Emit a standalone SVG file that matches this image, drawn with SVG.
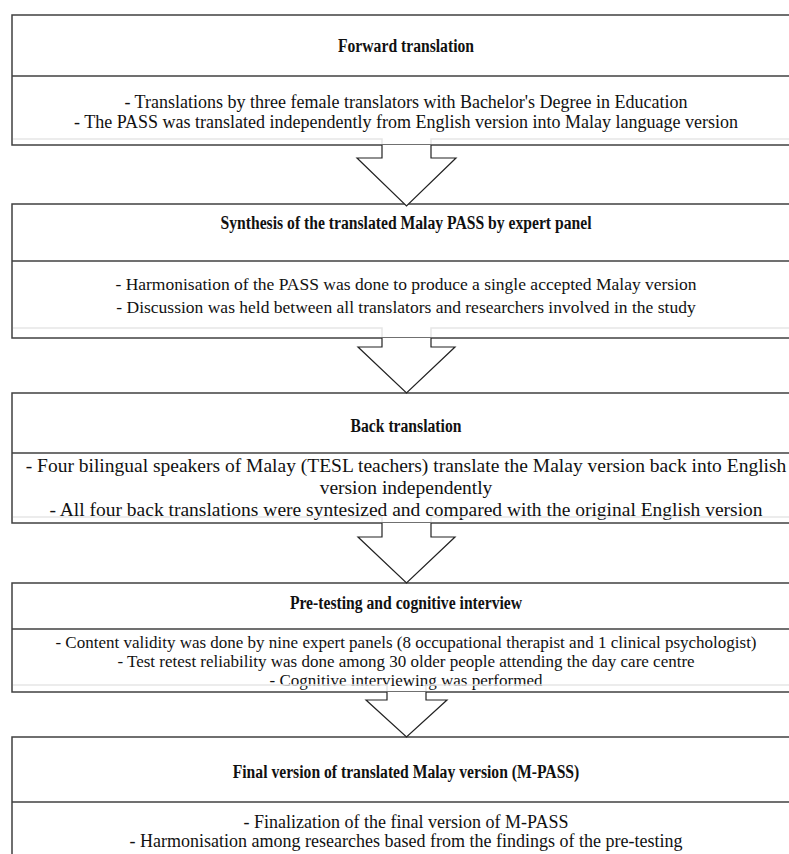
<svg xmlns="http://www.w3.org/2000/svg" width="789" height="854" viewBox="0 0 789 854">
<style>
.box{fill:#fff;stroke:#404040;stroke-width:1.5}
.div{stroke:#404040;stroke-width:1.5}
.faint{stroke:#e6e6e6;stroke-width:1.5;fill:none}
.arrow{fill:#fff;stroke:#222;stroke-width:1.2;stroke-linejoin:miter}
text{font-family:"Liberation Serif","Times New Roman",serif;fill:#111;text-anchor:middle}
.t{font-weight:bold;font-size:18px}
.b1{font-size:18px}
.b2{font-size:17.5px}
.b3{font-size:19.5px}
.b4{font-size:17px}
.b5{font-size:18px}
</style>
<rect width="789" height="854" fill="#fff"/>
<g id="node1">
<rect class="box" x="12" y="15" width="788" height="130"/>
<line class="div" x1="12" y1="76" x2="800" y2="76"/>
<text class="t" transform="translate(406 52) scale(0.87 1)">Forward translation</text>
<text class="b1" x="406" y="108">- Translations by three female translators with Bachelor's Degree in Education</text>
<text class="b1" x="406" y="128">- The PASS was translated independently from English version into Malay language version</text>
</g>
<g id="node2">
<rect class="box" x="12" y="204" width="788" height="134"/>
<line class="div" x1="12" y1="261" x2="800" y2="261"/>
<text class="t" transform="translate(406 229) scale(0.87 1)">Synthesis of the translated Malay PASS by expert panel</text>
<text class="b2" x="406" y="290">- Harmonisation of the PASS was done to produce a single accepted Malay version</text>
<text class="b2" x="406" y="313">- Discussion was held between all translators and researchers involved in the study</text>
</g>
<g id="node3">
<rect class="box" x="12" y="393" width="788" height="130"/>
<line class="div" x1="12" y1="453" x2="800" y2="453"/>
<text class="t" transform="translate(406 432) scale(0.87 1)">Back translation</text>
<text class="b3" x="406" y="472">- Four bilingual speakers of Malay (TESL teachers) translate the Malay version back into English</text>
<text class="b3" x="406" y="494">version independently</text>
<text class="b3" x="406" y="516">- All four back translations were syntesized and compared with the original English version</text>
</g>
<g id="node4">
<rect class="box" x="12" y="583" width="788" height="109"/>
<line class="div" x1="12" y1="629" x2="800" y2="629"/>
<text class="t" transform="translate(406 609) scale(0.87 1)">Pre-testing and cognitive interview</text>
<text class="b4" x="406" y="648">- Content validity was done by nine expert panels (8 occupational therapist and 1 clinical psychologist)</text>
<text class="b4" x="406" y="667">- Test retest reliability was done among 30 older people attending the day care centre</text>
<text class="b4" x="406" y="686">- Cognitive interviewing was performed</text>
</g>
<g id="node5">
<rect class="box" x="12" y="737" width="788" height="130"/>
<line class="div" x1="12" y1="802" x2="800" y2="802"/>
<text class="t" transform="translate(406 778) scale(0.87 1)">Final version of translated Malay version (M-PASS)</text>
<text class="b5" x="406" y="828">- Finalization of the final version of M-PASS</text>
<text class="b5" x="406" y="847">- Harmonisation among researches based from the findings of the pre-testing</text>
</g>
<g id="connectors">
<path class="faint" d="M13 139H382V144M431 144V139H799"/>
<path class="arrow" d="M382 145V158H357L406.5 206L456 158H431V145"/>
<path class="faint" d="M13 328H382V337M431 337V328H799"/>
<path class="arrow" d="M382 338V347H358L406.5 393L455 347H431V338"/>
<path class="faint" d="M13 517H382V522M431 522V517H799"/>
<path class="arrow" d="M382 523V537H358L406.5 583L455 537H431V523"/>
<path class="faint" d="M13 685H387V691M426 691V685H799"/>
<path class="arrow" d="M387 692V700H366L406.5 737L447 700H426V692"/>
</g>
</svg>
